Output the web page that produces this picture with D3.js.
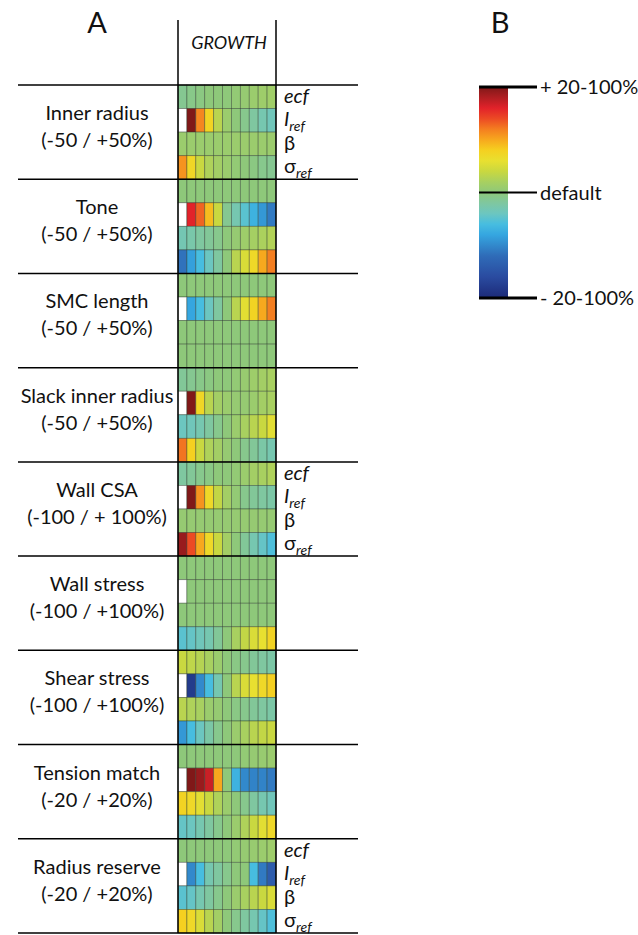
<!DOCTYPE html>
<html>
<head>
<meta charset="utf-8">
<script src="https://cdn.jsdelivr.net/npm/d3@7"></script>
<style>
  body { margin: 0; background: #fff; }
  text { font-family: Lato, "Open Sans", sans-serif; fill: #111; }
</style>
</head>
<body>
<svg id="chart"></svg>
<script>
// group names and their parameter ranges
var groupNames = ["Inner radius", "Tone", "SMC length", "Slack inner radius", "Wall CSA",
                  "Wall stress", "Shear stress", "Tension match", "Radius reserve"];
var groupRanges = ["(-50 / +50%)", "(-50 / +50%)", "(-50 / +50%)", "(-50 / +50%)", "(-100 / + 100%)",
                   "(-100 / +100%)", "(-100 / +100%)", "(-20 / +20%)", "(-20 / +20%)"];
var paramRows = ["ecf", "Iref", "β", "σref"];
var labelledGroups = ["Inner radius", "Wall CSA", "Radius reserve"];
var steps = d3.range(11);

// relative change in growth, -1 (= -20-100%) .. 0 (default) .. +1 (= +20-100%); null = not computed
var innerRadius = [
  [-0.06, -0.04, -0.02, 0, 0, 0, 0.02, 0.03, 0.05, 0.06, 0.07],
  [null, 1.0, 0.58, 0.38, 0.15, 0.05, 0, -0.05, -0.1, -0.15, -0.18],
  [0.05, 0.05, 0.05, 0.05, 0.05, 0.05, 0.05, 0.05, 0.05, 0.05, 0.05],
  [0.55, 0.36, 0.2, 0.12, 0.08, 0.05, 0.02, 0, -0.02, -0.05, -0.06]
];
var tone = [
  [0, 0, 0, 0, 0, 0, 0, 0, 0, 0, 0],
  [null, 0.8, 0.65, 0.45, 0.2, -0.06, -0.15, -0.25, -0.35, -0.45, -0.55],
  [-0.16, -0.13, -0.1, -0.08, -0.05, 0, 0.03, 0.06, 0.09, 0.11, 0.13],
  [-0.58, -0.42, -0.3, -0.2, -0.1, 0, 0.15, 0.25, 0.35, 0.5, 0.6]
];
var smcLength = [
  [0, 0, 0, 0, 0, 0, 0, 0, 0, 0, 0],
  [null, -0.4, -0.3, -0.2, -0.1, 0, 0.15, 0.28, 0.38, 0.5, 0.6],
  [0, 0, 0, 0, 0, 0, 0, 0, 0, 0, 0],
  [0, 0, 0, 0, 0, 0, 0, 0, 0, 0, 0]
];
var slackInnerRadius = [
  [-0.08, -0.06, -0.04, -0.02, 0, 0, 0.02, 0.04, 0.06, 0.08, 0.1],
  [null, 1.0, 0.36, 0.15, 0.08, 0.05, 0.03, 0.03, 0.05, 0.08, 0.1],
  [-0.2, -0.18, -0.15, -0.1, -0.05, 0, 0.05, 0.1, 0.15, 0.2, 0.28],
  [0.62, 0.4, 0.2, 0.12, 0.08, 0.03, 0, -0.05, -0.08, -0.12, -0.15]
];
var wallCSA = [
  [-0.1, -0.08, -0.05, -0.03, 0, 0, 0.02, 0.05, 0.08, 0.1, 0.12],
  [null, 1.0, 0.55, 0.35, 0.18, 0.08, 0.02, -0.05, -0.08, -0.1, -0.12],
  [0.03, 0.03, 0.03, 0.03, 0.03, 0.03, 0.03, 0.03, 0.03, 0.03, 0.03],
  [0.95, 0.7, 0.5, 0.35, 0.2, 0.08, 0, -0.08, -0.15, -0.22, -0.28]
];
var wallStress = [
  [0, 0, 0, 0, 0, 0, 0, 0, 0, 0, 0],
  [null, 0, 0, 0, 0, 0, 0, 0, 0, 0, 0],
  [0, 0, 0, 0, 0, 0, 0, 0, 0, 0, 0],
  [-0.25, -0.22, -0.18, -0.15, -0.08, 0, 0.1, 0.18, 0.25, 0.3, 0.38]
];
var shearStress = [
  [0.2, 0.17, 0.14, 0.1, 0.05, 0, -0.03, -0.05, -0.08, -0.1, -0.12],
  [null, -0.9, -0.5, -0.3, -0.15, 0, 0.15, 0.25, 0.3, 0.35, 0.4],
  [0.15, 0.12, 0.1, 0.05, 0.03, 0, -0.03, -0.05, -0.08, -0.1, -0.12],
  [-0.45, -0.3, -0.2, -0.12, -0.05, 0, 0.05, 0.1, 0.15, 0.18, 0.2]
];
var tensionMatch = [
  [0, 0, 0, 0, 0, 0, 0, 0.02, 0.03, 0.04, 0.05],
  [null, 1.0, 0.95, 0.85, 0.5, 0, -0.35, -0.5, -0.52, -0.52, -0.55],
  [0.38, 0.35, 0.28, 0.2, 0.12, 0.05, 0, -0.05, -0.1, -0.15, -0.18],
  [-0.22, -0.2, -0.15, -0.1, -0.05, 0, 0.05, 0.12, 0.2, 0.28, 0.35]
];
var radiusReserve = [
  [0, 0, 0, 0, 0, 0, 0.02, 0.03, 0.04, 0.05, 0.06],
  [null, -0.5, -0.3, -0.15, -0.1, -0.05, 0, 0, -0.3, -0.55, -0.7],
  [-0.25, -0.22, -0.15, -0.1, -0.05, 0, 0.05, 0.1, 0.15, 0.2, 0.25],
  [0.4, 0.35, 0.25, 0.15, 0.08, 0, -0.05, -0.1, -0.15, -0.22, -0.28]
];
var groupValues = [innerRadius, tone, smcLength, slackInnerRadius, wallCSA,
                   wallStress, shearStress, tensionMatch, radiusReserve];

// colour map stops
var stopValues = [-1, -0.8, -0.6, -0.4, -0.3, -0.2, -0.1, 0, 0.1, 0.2, 0.3, 0.4, 0.5, 0.6, 0.7, 0.8, 0.9, 1];
var stopColors = ["#1c2a78", "#2a4ba0", "#2f6cb8", "#35a6e0", "#47bde0", "#6cc6c0", "#7fc7a0", "#8ec87a",
                  "#a8d060", "#c9d840", "#e8e030", "#f5d020", "#f7a81e", "#f47e20", "#ec4a24", "#e2222a",
                  "#b01e22", "#801818"];
var colorLabels = ["+ 20-100%", "default", "- 20-100%"];

var svg = d3.select("#chart").attr("width", 638).attr("height", 935);

var color = d3.scaleLinear().domain(stopValues).range(stopColors).interpolate(d3.interpolateRgb);

var x = d3.scaleBand().domain(steps).range([178, 276]);
var gy = d3.scaleBand().domain(groupNames).range([85, 933]);
var ry = d3.scaleBand().domain(d3.range(4)).range([0, gy.bandwidth()]);

// cells
var groups = svg.append("g").selectAll("g")
    .data(groupNames)
    .enter().append("g")
    .attr("transform", function(d) { return "translate(0," + gy(d) + ")"; });

groups.each(function(name, gi) {
    var cells = [];
    groupValues[gi].forEach(function(row, ri) {
        row.forEach(function(v, ci) { cells.push({row: ri, col: ci, v: v}); });
    });
    d3.select(this).selectAll("rect")
        .data(cells)
        .enter().append("rect")
        .attr("x", function(d) { return x(d.col); })
        .attr("y", function(d) { return ry(d.row); })
        .attr("width", x.bandwidth())
        .attr("height", ry.bandwidth())
        .attr("fill", function(d) { return d.v === null ? "#fff" : color(d.v); })
        .attr("stroke", "#2b3a2b")
        .attr("stroke-opacity", 0.5)
        .attr("stroke-width", 0.8);
});

// frame lines
var lines = svg.append("g").attr("stroke", "#000").attr("stroke-width", 1.5);
gy.domain().concat([null]).forEach(function(d) {
    var yy = d === null ? 933 : gy(d);
    lines.append("line").attr("x1", 18).attr("x2", 358).attr("y1", yy).attr("y2", yy);
});
[178, 276].forEach(function(xx) {
    lines.append("line").attr("x1", xx).attr("x2", xx).attr("y1", 20).attr("y2", 933);
});

// titles
svg.append("text").attr("x", 97).attr("y", 33).attr("text-anchor", "middle")
    .attr("font-size", 29).text("A");
svg.append("text").attr("x", 500).attr("y", 33).attr("text-anchor", "middle")
    .attr("font-size", 29).text("B");
svg.append("text").attr("x", 229).attr("y", 49).attr("text-anchor", "middle")
    .attr("font-size", 18).attr("font-style", "italic").text("GROWTH");

// group labels
groups.append("text").attr("x", 97).attr("y", 35).attr("text-anchor", "middle")
    .attr("font-size", 20).text(function(d) { return d; });
groups.append("text").attr("x", 97).attr("y", 62).attr("text-anchor", "middle")
    .attr("font-size", 20).text(function(d, i) { return groupRanges[i]; });

// parameter labels on the right
groups.filter(function(d) { return labelledGroups.indexOf(d) >= 0; })
    .each(function() {
        var g = d3.select(this);
        paramRows.forEach(function(p, i) {
            var t = g.append("text").attr("x", 284).attr("y", ry(i) + ry.bandwidth() / 2 + 6)
                .attr("font-size", 20);
            if (p === "ecf") {
                t.attr("font-style", "italic").text("ecf");
            } else if (p === "β") {
                t.text("β");
            } else {
                var main = p === "Iref" ? "I" : "σ";
                t.append("tspan").attr("font-style", p === "Iref" ? "italic" : null).text(main);
                t.append("tspan").attr("font-style", "italic").attr("font-size", 14)
                    .attr("dy", 5).text("ref");
            }
        });
    });

// colour bar
var cy = d3.scaleLinear().domain([1, -1]).range([87, 298]);
var grad = svg.append("defs").append("linearGradient").attr("id", "cbar")
    .attr("x1", 0).attr("x2", 0).attr("y1", 0).attr("y2", 1);
grad.selectAll("stop")
    .data(stopValues.slice().reverse())
    .enter().append("stop")
    .attr("offset", function(d) { return (cy(d) - 87) / (298 - 87); })
    .attr("stop-color", function(d) { return color(d); });
svg.append("rect").attr("x", 479).attr("y", cy(1)).attr("width", 29)
    .attr("height", cy(-1) - cy(1)).attr("fill", "url(#cbar)");

var tickVals = [1, 0, -1];
svg.append("g").selectAll("line")
    .data(tickVals)
    .enter().append("line")
    .attr("x1", 479).attr("x2", 537)
    .attr("y1", function(d) { return cy(d); })
    .attr("y2", function(d) { return cy(d); })
    .attr("stroke", "#000")
    .attr("stroke-width", function(d) { return d === 0 ? 2 : 3; });
svg.append("g").selectAll("text")
    .data(tickVals)
    .enter().append("text")
    .attr("x", 540)
    .attr("y", function(d) { return cy(d) + 7; })
    .attr("font-size", 20)
    .text(function(d, i) { return colorLabels[i]; });
</script>
</body>
</html>
